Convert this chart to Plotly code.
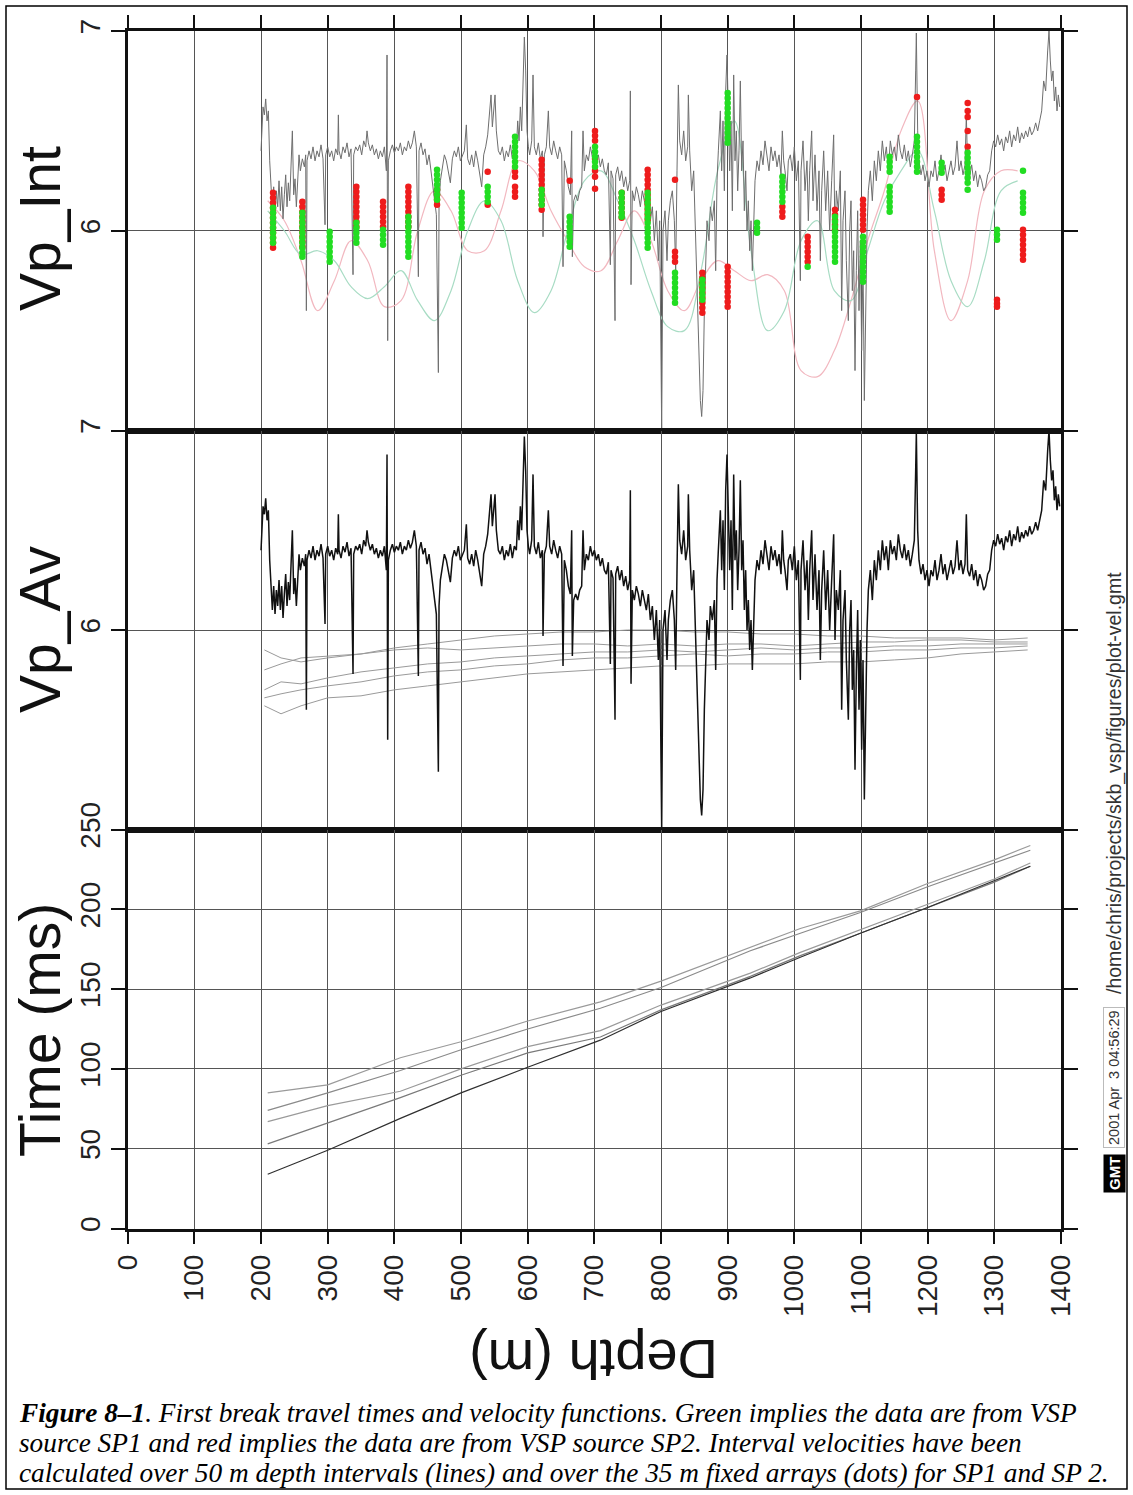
import plotly.graph_objects as go

# ---------------------------------------------------------------- data
# Sonic-style P-wave velocity log (km/s) against depth (m)
log_depth = [
    200, 203, 205, 207, 209, 211, 213, 215, 217, 219,
    221, 223, 225, 227, 229, 231, 233, 235, 237, 239,
    241, 243, 245, 247, 249, 251, 253, 255, 257, 259,
    262, 265, 267, 268, 269, 272, 275, 278, 281, 284,
    287, 290, 293, 296, 297, 300, 303, 306, 309, 312,
    315, 316, 317, 320, 323, 326, 329, 332, 335, 338,
    339, 342, 345, 348, 351, 354, 357, 359, 361, 364,
    367, 370, 373, 376, 379, 382, 385, 388, 389, 390,
    391, 394, 397, 400, 403, 406, 409, 412, 415, 418,
    421, 424, 427, 430, 433, 436, 437, 440, 443, 446,
    449, 452, 455, 458, 461, 463, 466, 467, 469, 472,
    475, 478, 481, 484, 487, 490, 493, 496, 499, 502,
    505, 508, 510, 513, 516, 519, 522, 525, 528, 531,
    534, 537, 540, 543, 545, 547, 549, 551, 553, 556,
    559, 562, 565, 568, 571, 574, 577, 580, 583, 585,
    587, 589, 591, 593, 595, 597, 599, 601, 603, 606,
    608, 610, 613, 616, 619, 622, 623, 625, 628, 631,
    633, 636, 639, 642, 645, 648, 651, 653, 655, 658,
    661, 664, 666, 667, 669, 672, 675, 678, 681, 683,
    685, 688, 691, 694, 697, 700, 703, 706, 709, 712,
    715, 718, 721, 724, 725, 728, 731, 732, 735, 738,
    741, 744, 747, 750, 753, 754, 755, 757, 760, 763,
    766, 769, 772, 775, 778, 781, 784, 787, 790, 793,
    796, 798, 801, 803, 806, 809, 811, 814, 817, 820,
    822, 824, 826, 828, 831, 834, 837, 840, 841, 843,
    846, 849, 851, 853, 855, 857, 859, 861, 863, 865,
    867, 869, 872, 874, 877, 880, 882, 884, 886, 889,
    891, 893, 895, 897, 899, 901, 903, 905, 907, 909,
    911, 913, 915, 917, 919, 921, 923, 925, 927, 929,
    931, 933, 935, 937, 939, 941, 944, 947, 950, 953,
    956, 959, 962, 965, 968, 971, 974, 977, 980, 982,
    984, 986, 989, 991, 994, 997, 1000, 1003, 1006, 1009,
    1010, 1013, 1016, 1019, 1021, 1023, 1026, 1028, 1031, 1034,
    1037, 1039, 1041, 1044, 1047, 1050, 1053, 1056, 1059, 1061,
    1063, 1066, 1069, 1071, 1073, 1076, 1078, 1081, 1083, 1085,
    1087, 1089, 1091, 1093, 1095, 1097, 1099, 1101, 1103, 1105,
    1107, 1109, 1111, 1114, 1117, 1120, 1123, 1126, 1129, 1132,
    1135, 1138, 1141, 1144, 1147, 1150, 1153, 1156, 1159, 1162,
    1165, 1168, 1171, 1174, 1177, 1180, 1182, 1183, 1185, 1187,
    1190, 1193, 1196, 1199, 1202, 1205, 1208, 1211, 1214, 1217,
    1220, 1223, 1226, 1229, 1232, 1235, 1238, 1241, 1244, 1247,
    1250, 1253, 1256, 1258, 1260, 1263, 1266, 1269, 1272, 1275,
    1278, 1281, 1284, 1287, 1290, 1293, 1296, 1299, 1302, 1305,
    1308, 1311, 1314, 1317, 1320, 1323, 1326, 1329, 1332, 1335,
    1338, 1341, 1344, 1347, 1350, 1353, 1356, 1359, 1362, 1365,
    1368, 1371, 1374, 1377, 1380, 1382, 1384, 1386, 1388, 1390,
    1392, 1394, 1396, 1398,
]
log_vp = [
    6.40, 6.62, 6.58, 6.66, 6.55, 6.60, 6.35, 6.18, 6.10, 6.22,
    6.08, 6.20, 6.12, 6.25, 6.10, 6.22, 6.06, 6.18, 6.28, 6.12,
    6.24, 6.15, 6.30, 6.50, 6.18, 6.26, 6.12, 6.30, 6.38, 6.30,
    6.36, 6.32, 6.38, 5.60, 6.35, 6.40, 6.36, 6.42, 6.35, 6.40,
    6.37, 6.43, 6.36, 6.03, 6.38, 6.42, 6.37, 6.40, 6.35, 6.41,
    6.38, 6.58, 6.40, 6.36, 6.42, 6.39, 6.44, 6.37, 6.41, 5.78,
    6.38, 6.42, 6.40, 6.43, 6.38, 6.45, 6.42, 6.50, 6.44, 6.40,
    6.43, 6.38, 6.41, 6.36, 6.40, 6.37, 6.42, 6.30, 6.88, 5.45,
    6.35, 6.40, 6.43, 6.39, 6.42, 6.40, 6.44, 6.38, 6.42, 6.40,
    6.45, 6.41, 6.44, 6.50, 6.42, 5.77, 6.40, 6.44, 6.38, 6.41,
    6.33, 6.38, 6.30, 6.22, 6.15, 6.08, 5.29, 6.12, 6.25, 6.33,
    6.38, 6.35, 6.30, 6.24, 6.36, 6.40, 6.37, 6.42, 6.35, 6.38,
    6.40, 6.53, 6.36, 6.33, 6.38, 6.32, 6.40, 6.35, 6.27, 6.22,
    6.38, 6.42, 6.48, 6.60, 6.68, 6.52, 6.62, 6.68, 6.50, 6.40,
    6.38, 6.42, 6.35, 6.40, 6.37, 6.43, 6.36, 6.42, 6.40, 6.55,
    6.45, 6.62, 6.50, 6.70, 6.97, 6.80, 6.50, 6.42, 6.38, 6.45,
    6.78, 6.42, 6.38, 6.44, 6.36, 6.40, 5.97, 6.38, 6.42, 6.60,
    6.42, 6.38, 6.45, 6.40, 6.36, 6.42, 6.38, 5.82, 6.35, 6.30,
    6.22, 6.18, 6.50, 5.87, 6.15, 6.18, 6.15, 6.20, 6.22, 6.50,
    6.30, 6.38, 6.35, 6.42, 6.37, 6.40, 6.35, 6.38, 6.32, 6.36,
    6.30, 6.28, 6.34, 5.83, 6.30, 6.26, 5.55, 6.28, 6.32, 6.25,
    6.30, 6.22, 6.27, 6.20, 6.25, 6.70, 5.73, 6.20, 6.15, 6.22,
    6.18, 6.12, 6.20, 6.15, 6.10, 6.18, 6.05, 6.12, 5.95, 6.10,
    5.85, 6.05, 5.00, 6.00, 6.10, 5.85, 6.05, 6.15, 6.20, 6.05,
    5.80, 6.30, 6.73, 6.45, 6.38, 6.50, 6.35, 6.42, 6.68, 6.40,
    6.20, 6.30, 6.05, 5.90, 5.60, 5.30, 5.15, 5.07, 5.20, 5.60,
    5.90, 6.05, 5.95, 6.12, 6.05, 6.15, 5.80, 6.25, 6.40, 6.60,
    6.30, 6.55, 6.20, 6.70, 6.88, 6.50, 6.30, 6.55, 6.10, 6.78,
    6.35, 6.50, 6.20, 6.40, 6.75, 6.30, 6.45, 6.10, 6.30, 6.00,
    6.15, 5.90, 6.05, 5.80, 6.10, 6.25, 6.35, 6.30, 6.40, 6.33,
    6.45, 6.38, 6.30, 6.42, 6.35, 6.40, 6.32, 6.38, 6.28, 6.50,
    6.35, 6.30, 6.20, 6.35, 6.38, 6.30, 6.42, 6.25, 6.35, 5.75,
    6.30, 6.45, 6.20, 6.35, 6.05, 6.30, 6.50, 6.15, 6.38, 6.10,
    6.30, 5.85, 6.20, 6.40, 6.10, 6.30, 6.00, 6.25, 6.48, 5.95,
    6.20, 6.10, 6.30, 5.60, 6.05, 6.20, 5.85, 5.55, 6.00, 6.15,
    5.70, 5.90, 5.30, 5.80, 6.10, 5.60, 5.95, 5.40, 5.85, 5.15,
    5.70, 6.00, 6.20, 6.30, 6.15, 6.35, 6.25, 6.40, 6.30, 6.45,
    6.35, 6.42, 6.30, 6.45, 6.38, 6.42, 6.35, 6.48, 6.40, 6.36,
    6.43, 6.35, 6.40, 6.32, 6.38, 6.45, 6.80, 6.99, 6.50, 6.35,
    6.28, 6.33, 6.25, 6.30, 6.22, 6.30, 6.27, 6.35, 6.25, 6.30,
    6.38, 6.28, 6.33, 6.25, 6.30, 6.35, 6.28, 6.32, 6.45, 6.30,
    6.35, 6.28, 6.33, 6.58, 6.30, 6.27, 6.33, 6.25, 6.30, 6.22,
    6.28, 6.25, 6.20, 6.22, 6.28, 6.30, 6.40, 6.45, 6.42, 6.48,
    6.43, 6.46, 6.40, 6.47, 6.44, 6.50, 6.42, 6.48, 6.45, 6.52,
    6.44, 6.49, 6.46, 6.50, 6.47, 6.52, 6.48, 6.50, 6.54, 6.50,
    6.55, 6.60, 6.75, 6.70, 6.90, 7.00, 6.85, 6.75, 6.80, 6.65,
    6.72, 6.60, 6.68, 6.62,
]

# Interval velocities over 50 m depth windows (lines)
int_depth = [210, 235, 260, 285, 310, 335, 360, 385, 410, 435, 460, 485,
             510, 535, 560, 585, 610, 635, 660, 685, 710, 735, 760, 785,
             810, 835, 860, 885, 910, 935, 960, 985, 1010, 1035, 1060, 1085,
             1110, 1135, 1160, 1185, 1210, 1235, 1260, 1285, 1310, 1335]
int_sp1 = [6.10, 6.00, 5.88, 5.90, 5.85, 5.72, 5.66, 5.72, 5.80, 5.65, 5.55, 5.70,
           6.00, 6.15, 6.05, 5.75, 5.59, 5.70, 6.00, 6.25, 6.30, 6.15, 5.95, 5.70,
           5.52, 5.50, 5.80, 6.30, 6.55, 5.90, 5.50, 5.60, 5.95, 6.05, 5.70, 5.65,
           5.90, 6.15, 6.30, 6.40, 6.10, 5.75, 5.62, 5.85, 6.20, 6.25]
int_sp2 = [6.15, 6.05, 5.85, 5.60, 5.75, 5.95, 5.85, 5.62, 5.65, 6.00, 6.20, 6.10,
           5.90, 5.90, 6.10, 6.35, 6.30, 6.10, 5.95, 5.82, 5.80, 5.95, 6.10, 5.95,
           5.70, 5.60, 5.75, 5.85, 5.80, 5.75, 5.78, 5.70, 5.30, 5.27, 5.40, 5.65,
           5.95, 6.20, 6.50, 6.65, 5.90, 5.55, 5.75, 6.20, 6.30, 6.30]

# Interval velocities over the 35 m fixed arrays (dots): one column per array
arr_depth_sp2 = [218, 262, 343, 383, 421, 464, 540, 581, 621, 663, 701, 741,
                 780, 821, 862, 900, 982, 1020, 1061, 1103, 1184, 1221, 1260,
                 1304, 1343]
arr_vp_sp2 = [
    [6.19, 6.165, 6.14, 6.115, 6.09, 6.065, 6.04, 6.015, 5.99, 5.965, 5.94, 5.915],
    [6.145, 6.12, 6.095, 6.07, 6.045, 6.02, 5.995, 5.97, 5.945, 5.92],
    [6.22, 6.195, 6.17, 6.145, 6.12, 6.095, 6.07, 6.045, 6.02],
    [6.145, 6.12, 6.095, 6.07, 6.045, 6.02],
    [6.22, 6.195, 6.17, 6.145, 6.12, 6.095, 6.07, 6.045, 6.02],
    [6.205, 6.18, 6.155, 6.13],
    [6.295, 6.13],
    [6.295, 6.27, 6.22, 6.195, 6.17],
    [6.355, 6.33, 6.305, 6.28, 6.255, 6.23, 6.205, 6.18, 6.155, 6.13, 6.105],
    [6.25],
    [6.5, 6.475, 6.45, 6.36, 6.3, 6.27, 6.21],
    [6.19, 6.165, 6.14, 6.115, 6.09, 6.065],
    [6.305, 6.28, 6.255, 6.23, 6.205, 6.18, 6.155, 6.13, 6.105, 6.08, 6.055],
    [6.255, 5.895, 5.87, 5.845],
    [5.79, 5.765, 5.74, 5.715, 5.69, 5.665, 5.64, 5.615, 5.59],
    [5.82, 5.795, 5.77, 5.745, 5.72, 5.695, 5.67, 5.645, 5.62],
    [6.12, 6.095, 6.07],
    [5.97, 5.945, 5.92, 5.895, 5.87, 5.845],
    [6.105, 6.08, 6.055, 6.03, 6.005],
    [6.155, 6.13, 6.105, 6.08, 6.055, 6.03, 6.005],
    [6.67],
    [6.205, 6.18, 6.155],
    [6.64, 6.6, 6.57, 6.5, 6.42],
    [5.655, 5.635, 5.62],
    [6.005, 5.98, 5.955, 5.93, 5.905, 5.88, 5.855],
]
arr_depth_sp1 = [218, 262, 303, 343, 383, 421, 464, 501, 540, 581, 621, 663,
                 701, 741, 780, 821, 862, 900, 944, 982, 1020, 1061, 1103, 1143,
                 1184, 1221, 1260, 1304, 1343]
arr_vp_sp1 = [
    [6.115, 6.09, 6.065, 6.04, 6.015, 5.99, 5.965, 5.94],
    [6.09, 6.065, 6.04, 6.015, 5.99, 5.965, 5.94, 5.915, 5.89, 5.87],
    [5.995, 5.97, 5.945, 5.92, 5.895, 5.87, 5.845],
    [6.04, 6.015, 5.99, 5.965, 5.94],
    [6.005, 5.98, 5.955, 5.93],
    [6.07, 6.045, 6.02, 5.995, 5.97, 5.945, 5.92, 5.895, 5.87],
    [6.305, 6.28, 6.255, 6.23, 6.205, 6.18, 6.155],
    [6.19, 6.165, 6.14, 6.115, 6.09, 6.065, 6.04, 6.015],
    [6.22, 6.195, 6.17, 6.145],
    [6.47, 6.445, 6.42, 6.395, 6.37, 6.345, 6.32],
    [6.205, 6.18, 6.155, 6.13],
    [6.07, 6.045, 6.02, 5.995, 5.97, 5.945, 5.92],
    [6.42, 6.395, 6.37, 6.345, 6.32],
    [6.19, 6.165, 6.14, 6.115, 6.09, 6.07],
    [6.19, 6.165, 6.14, 6.115, 6.09, 6.065, 6.04, 6.015, 5.99, 5.965, 5.94, 5.915],
    [5.79, 5.765, 5.74, 5.715, 5.69, 5.665, 5.64],
    [5.755, 5.73, 5.705, 5.68, 5.655],
    [6.69, 6.665, 6.64, 6.615, 6.59, 6.565, 6.54, 6.515, 6.49, 6.465, 6.44],
    [6.04, 6.015, 5.99],
    [6.27, 6.245, 6.22, 6.195, 6.17, 6.145],
    [5.82],
    [6.07, 6.045, 6.02, 5.995, 5.97, 5.945, 5.92, 5.895, 5.87, 5.845],
    [5.97, 5.945, 5.92, 5.895, 5.87, 5.845, 5.82, 5.795, 5.77, 5.745],
    [6.37, 6.345, 6.32, 6.295, 6.22, 6.195, 6.17, 6.145, 6.12, 6.095],
    [6.47, 6.445, 6.42, 6.395, 6.37, 6.345, 6.32, 6.295],
    [6.34, 6.315, 6.29],
    [6.39, 6.365, 6.34, 6.315, 6.29, 6.265, 6.24, 6.205],
    [6.005, 5.98, 5.955],
    [6.3, 6.19, 6.165, 6.14, 6.115, 6.09],
]

# Average velocities (km/s) from the surface, one row per source/component
av_depth = [205, 230, 260, 300, 350, 400, 450, 500, 550, 600, 650, 700, 750,
            800, 850, 900, 950, 1000, 1050, 1100, 1150, 1200, 1250, 1300, 1350]
av_vp = [
    [5.90, 5.86, 5.84, 5.86, 5.88, 5.91, 5.93, 5.95, 5.97, 5.98, 5.99, 5.99, 6.00,
     6.00, 5.99, 5.99, 5.98, 5.98, 5.97, 5.97, 5.96, 5.96, 5.96, 5.95, 5.96],
    [5.80, 5.83, 5.86, 5.87, 5.88, 5.90, 5.91, 5.90, 5.91, 5.92, 5.93, 5.93, 5.92,
     5.93, 5.92, 5.93, 5.93, 5.92, 5.93, 5.94, 5.94, 5.95, 5.95, 5.94, 5.94],
    [5.70, 5.74, 5.73, 5.76, 5.79, 5.81, 5.83, 5.84, 5.86, 5.87, 5.88, 5.89, 5.89,
     5.90, 5.89, 5.90, 5.91, 5.90, 5.91, 5.91, 5.92, 5.92, 5.93, 5.93, 5.93],
    [5.66, 5.68, 5.70, 5.72, 5.74, 5.77, 5.79, 5.80, 5.82, 5.83, 5.85, 5.86, 5.86,
     5.87, 5.88, 5.87, 5.88, 5.88, 5.89, 5.89, 5.90, 5.90, 5.91, 5.91, 5.92],
    [5.62, 5.58, 5.62, 5.66, 5.67, 5.70, 5.72, 5.74, 5.76, 5.78, 5.79, 5.80, 5.81,
     5.82, 5.82, 5.83, 5.83, 5.83, 5.84, 5.84, 5.85, 5.86, 5.88, 5.89, 5.90],
]

# First-break travel times (ms)
tt_depth = [210, 300, 409, 500, 600, 709, 800, 934, 1009, 1099, 1199, 1300, 1354]
tt_ms = [
    [85, 90, 107, 117, 130, 142, 155, 176, 188, 199, 216, 231, 240],
    [74, 85, 99, 112, 125, 138, 151, 174, 185, 198, 214, 229, 237],
    [67, 77, 86, 100, 114, 124, 140, 160, 173, 187, 203, 219, 229],
    [53, 66, 82, 96, 110, 120, 137, 158, 171, 185, 201, 217, 227],
    [34, 49, 69, 85, 101, 118, 136, 157, 170, 185, 201, 218, 227],
]
tt_colors = ["#9a9a9a", "#8a8a8a", "#9a9a9a", "#7a7a7a", "#303030"]

depth_ticks = list(range(0, 1401, 100))
caption_lines = [
    "<b><i>Figure 8\u20131</i></b><i>. First break travel times and velocity functions. "
    "Green implies the data are from VSP</i>",
    "<i>source SP1 and red implies the data are from VSP source SP2. "
    "Interval velocities have been</i>",
    "<i>calculated over 50 m depth intervals (lines) and over the 35 m fixed arrays "
    "(dots) for SP1 and SP 2.</i>",
]

# ---------------------------------------------------------------- layout helpers
W, H = 1133, 1495


def px(xp):
    return xp / W


def py(yp):
    return 1 - yp / H


X_DOM = [px(127.7), px(1061)]
TOP_DOM = [py(430.5), py(31)]
MID_DOM = [py(829.5), py(430.5)]
BOT_DOM = [py(1228.5), py(829.5)]

SANS = "Liberation Sans, Arial, sans-serif"
GRID = "#555555"

fig = go.Figure()

# ---- top panel: interval velocities
fig.add_trace(go.Scatter(x=int_depth, y=int_sp2, mode="lines", line_shape="spline",
                         line=dict(color="#f2b8c0", width=1.2), xaxis="x", yaxis="y"))
fig.add_trace(go.Scatter(x=int_depth, y=int_sp1, mode="lines", line_shape="spline",
                         line=dict(color="#a8dcc4", width=1.2), xaxis="x", yaxis="y"))
fig.add_trace(go.Scatter(x=log_depth, y=log_vp, mode="lines",
                         line=dict(color="#6e6e6e", width=1), xaxis="x", yaxis="y"))

sp2_x, sp2_y = [], []
for d, vals in zip(arr_depth_sp2, arr_vp_sp2):
    sp2_x += [d] * len(vals)
    sp2_y += vals
sp1_x, sp1_y = [], []
for d, vals in zip(arr_depth_sp1, arr_vp_sp1):
    sp1_x += [d] * len(vals)
    sp1_y += vals

fig.add_trace(go.Scatter(x=sp2_x, y=sp2_y, mode="markers",
                         marker=dict(color="#ee1c1c", size=6.5, line=dict(width=0)),
                         xaxis="x", yaxis="y"))
fig.add_trace(go.Scatter(x=sp1_x, y=sp1_y, mode="markers",
                         marker=dict(color="#22dd22", size=6.5, line=dict(width=0)),
                         xaxis="x", yaxis="y"))

# ---- middle panel: average velocities and log
for row in av_vp:
    fig.add_trace(go.Scatter(x=av_depth, y=row, mode="lines",
                             line=dict(color="#9a9a9a", width=1), xaxis="x2", yaxis="y2"))
fig.add_trace(go.Scatter(x=log_depth, y=log_vp, mode="lines",
                         line=dict(color="#111111", width=1.5), xaxis="x2", yaxis="y2"))

# ---- bottom panel: travel times
for row, col in zip(tt_ms, tt_colors):
    fig.add_trace(go.Scatter(x=tt_depth, y=row, mode="lines",
                             line=dict(color=col, width=1.2), xaxis="x3", yaxis="y3"))

TICKFONT = dict(family=SANS, size=28, color="#222")
common_x = dict(range=[0, 1400], tickvals=depth_ticks, domain=X_DOM, automargin=False,
                showgrid=True, gridcolor=GRID, gridwidth=1.3, zeroline=False,
                showline=True, linecolor="#111", linewidth=3, mirror=True,
                tickcolor="#111", tickwidth=1.5)
common_yv = dict(range=[5, 7], tickvals=[6, 7], ticktext=["6", "7"], automargin=False,
                 showgrid=True, gridcolor=GRID, gridwidth=1.3, zeroline=False,
                 showline=True, linecolor="#111", linewidth=3, mirror="ticks",
                 ticks="outside", ticklen=14, tickwidth=1.5, tickcolor="#111",
                 tickangle=-90, tickfont=TICKFONT)

fig.update_layout(
    width=W, height=H,
    margin=dict(l=0, r=0, t=0, b=0, autoexpand=False),
    paper_bgcolor="white", plot_bgcolor="white",
    showlegend=False,
    xaxis=dict(common_x, anchor="y", side="top", ticks="outside", ticklen=13,
               showticklabels=False),
    xaxis2=dict(common_x, anchor="y2", ticks="", showticklabels=False),
    xaxis3=dict(common_x, anchor="y3", ticks="outside", ticklen=12,
                tickangle=-90, tickfont=TICKFONT),
    yaxis=dict(common_yv, domain=TOP_DOM, anchor="x"),
    yaxis2=dict(common_yv, domain=MID_DOM, anchor="x2"),
    yaxis3=dict(range=[0, 250], tickvals=[0, 50, 100, 150, 200, 250], domain=BOT_DOM,
                anchor="x3", automargin=False, showgrid=True, gridcolor=GRID,
                gridwidth=1.3, zeroline=False, showline=True, linecolor="#111",
                linewidth=3, mirror="ticks", ticks="outside", ticklen=14,
                tickwidth=1.5, tickcolor="#111", tickangle=-90, tickfont=TICKFONT),
)

annotations = []
for text, yc in [("Vp_Int", 229), ("Vp_Av", 630), ("Time (ms)", 1030)]:
    annotations.append(dict(text=text, x=px(40), y=py(yc), xref="paper", yref="paper",
                            textangle=-90, showarrow=False, xanchor="center",
                            yanchor="middle", font=dict(family=SANS, size=57, color="#111")))
annotations.append(dict(text="Depth (m)", x=px(594), y=py(1360), xref="paper", yref="paper",
                        textangle=180, showarrow=False, xanchor="center", yanchor="middle",
                        font=dict(family=SANS, size=56, color="#111")))
for i, line in enumerate(caption_lines):
    annotations.append(dict(text=line, x=px(17), y=py(1413 + 30 * i), xref="paper",
                            yref="paper", showarrow=False, xanchor="left", yanchor="middle",
                            font=dict(family="Liberation Serif, Times New Roman, serif",
                                      size=27.3, color="#000")))
# GMT time stamp
annotations.append(dict(text="/home/chris/projects/skb_vsp/figures/plot-vel.gmt",
                        x=px(1114), y=py(783), xref="paper", yref="paper", textangle=-90,
                        showarrow=False, xanchor="center", yanchor="middle",
                        font=dict(family=SANS, size=19.5, color="#333")))
annotations.append(dict(text="2001 Apr  3 04:56:29", x=px(1114), y=py(1078), xref="paper",
                        yref="paper", textangle=-90, showarrow=False, xanchor="center",
                        yanchor="middle", bgcolor="white", bordercolor="#bbbbbb",
                        borderwidth=1, borderpad=2,
                        font=dict(family=SANS, size=14.5, color="#333")))
annotations.append(dict(text="<b>GMT</b>", x=px(1114), y=py(1174), xref="paper",
                        yref="paper", textangle=-90, showarrow=False, xanchor="center",
                        yanchor="middle", bgcolor="#000", borderpad=2,
                        font=dict(family=SANS, size=15, color="white")))
fig.update_layout(annotations=annotations)

fig.add_shape(type="rect", xref="paper", yref="paper", x0=px(6), x1=px(1127),
              y0=py(1489), y1=py(6), line=dict(color="#000", width=1.5))

fig.write_html("out.html")
